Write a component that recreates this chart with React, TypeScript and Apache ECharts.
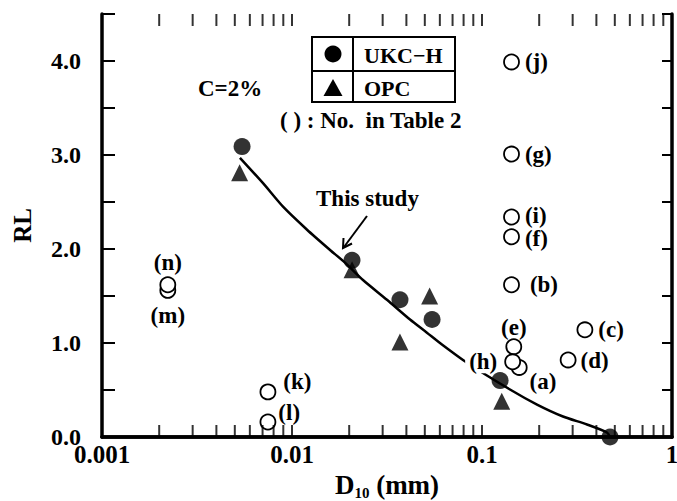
import React, { useEffect, useRef } from "react";
import * as echarts from "echarts";

// UKC-H (filled circles)
const ukcX = [0.00546, 0.0207, 0.037, 0.0546, 0.1245, 0.472];
const ukcY = [3.09, 1.88, 1.46, 1.25, 0.6, 0.0];
// OPC (filled triangles)
const opcX = [0.0053, 0.0207, 0.037, 0.053, 0.127];
const opcY = [2.81, 1.78, 1.01, 1.5, 0.38];
// Other studies (open circles), No. in Table 2
const otherNames = ["(a)", "(b)", "(c)", "(d)", "(e)", "(f)", "(g)", "(h)", "(i)", "(j)", "(k)", "(l)", "(m)", "(n)"];
const otherX = [0.157, 0.143, 0.348, 0.284, 0.147, 0.143, 0.143, 0.145, 0.143, 0.143, 0.00747, 0.00747, 0.00222, 0.00222];
const otherY = [0.74, 1.62, 1.14, 0.82, 0.96, 2.13, 3.01, 0.8, 2.34, 3.99, 0.48, 0.16, 1.56, 1.62];
// Fitted curve
const curveX = [0.00532, 0.00704, 0.00897, 0.012, 0.01585, 0.019, 0.02364, 0.0316, 0.0418, 0.0513, 0.0601, 0.0834, 0.1404, 0.1948, 0.2668, 0.3569, 0.4548, 0.472];
const curveY = [2.97, 2.7, 2.45, 2.205, 1.99, 1.855, 1.67, 1.46, 1.25, 1.11, 1.0, 0.79, 0.505, 0.345, 0.218, 0.133, 0.048, 0.0];
// Axis ticks
const xTickLabels = ["0.001", "0.01", "0.1", "1"];
const yTickLabels = ["0.0", "1.0", "2.0", "3.0", "4.0"];
const xTickValues = [
  0.002, 0.003, 0.004, 0.005, 0.006, 0.007, 0.008, 0.009, 0.01,
  0.02, 0.03, 0.04, 0.05, 0.06, 0.07, 0.08, 0.09, 0.1,
  0.2, 0.3, 0.4, 0.5, 0.6, 0.7, 0.8, 0.9,
];
const Y_MIN = 0;
const Y_MAX = 4.5;

const FONT = "'Liberation Serif', 'Times New Roman', serif";

const labelStyle: Record<string, any> = {
  "(a)": { position: "right", offset: [-3, 14] },
  "(b)": { position: "right", offset: [5, 0] },
  "(c)": { position: "right", offset: [0, 0] },
  "(d)": { position: "right", offset: [-1, 1] },
  "(e)": { position: "top", offset: [0, 6] },
  "(f)": { position: "right", offset: [0, 2] },
  "(g)": { position: "right", offset: [0, 0] },
  "(h)": { position: "left", offset: [0, 0], backgroundColor: "#fff", padding: [0, 2, 0, 4] },
  "(i)": { position: "right", offset: [0, -2] },
  "(j)": { position: "right", offset: [0, 0] },
  "(k)": { position: "right", offset: [2, -10] },
  "(l)": { position: "right", offset: [-3, -9] },
  "(m)": { position: "bottom", offset: [0, 0] },
  "(n)": { position: "top", offset: [0, 3] },
};

function tickSeries(yVal: number, dir: number) {
  return {
    type: "scatter",
    silent: true,
    clip: false,
    z: 6,
    symbol: "rect",
    symbolSize: [2, 12],
    symbolOffset: [0, dir * 6],
    itemStyle: { color: "#000" },
    data: xTickValues.map((v) => [v, yVal]),
  };
}

export default function App() {
  const ref = useRef<HTMLDivElement>(null);
  useEffect(() => {
    document.documentElement.style.margin = "0";
    document.documentElement.style.overflow = "hidden";
    document.body.style.margin = "0";
    document.body.style.overflow = "hidden";
    if (!ref.current) return;
    const chart = echarts.init(ref.current, null, { renderer: "svg", width: 677, height: 501 });
    const axisLine = { show: true, lineStyle: { color: "#000", width: 3.5 } };
    const option: any = {
      animation: false,
      backgroundColor: "#fff",
      grid: { left: 102, right: 5, top: 14, bottom: 64, outerBoundsMode: "none", containLabel: false },
      xAxis: [
        {
          type: "log",
          logBase: 10,
          min: 0.001,
          max: 1,
          position: "bottom",
          axisLine,
          axisTick: { show: false },
          splitLine: { show: false },
          axisLabel: {
            color: "#000",
            fontFamily: FONT,
            fontWeight: "bold",
            fontSize: 25,
            margin: 5,
            formatter: (v: number) => xTickLabels[Math.round(Math.log10(v)) + 3] ?? "",
          },
          name: "{d|D}{s|10}{d| (mm)}",
          nameLocation: "middle",
          nameGap: 24,
          nameTextStyle: {
            rich: {
              d: { fontFamily: FONT, fontWeight: "bold", fontSize: 27, color: "#000", lineHeight: 30, verticalAlign: "middle" },
              s: { fontFamily: FONT, fontWeight: "bold", fontSize: 15, color: "#000", lineHeight: 30, verticalAlign: "bottom" },
            },
          },
        },
        {
          type: "log",
          logBase: 10,
          min: 0.001,
          max: 1,
          position: "top",
          axisLine,
          axisTick: { show: false },
          axisLabel: { show: false },
          splitLine: { show: false },
        },
      ],
      yAxis: [
        {
          type: "value",
          min: Y_MIN,
          max: Y_MAX,
          interval: 0.5,
          position: "left",
          axisLine,
          axisTick: { show: true, inside: true, length: 13, lineStyle: { color: "#000", width: 2 } },
          splitLine: { show: false },
          axisLabel: {
            color: "#000",
            fontFamily: FONT,
            fontWeight: "bold",
            fontSize: 24,
            margin: 21,
            formatter: (v: number) => {
              const i = Math.round(v);
              return Math.abs(v - i) < 1e-6 ? yTickLabels[i] ?? "" : "";
            },
          },
          name: "RL",
          nameLocation: "middle",
          nameRotate: 90,
          nameGap: 67,
          nameTextStyle: { fontFamily: FONT, fontWeight: "bold", fontSize: 25, color: "#000" },
        },
        {
          type: "value",
          min: Y_MIN,
          max: Y_MAX,
          interval: 0.5,
          position: "right",
          axisLine,
          axisTick: { show: true, inside: true, length: 10, lineStyle: { color: "#000", width: 2 } },
          axisLabel: { show: false },
          splitLine: { show: false },
        },
      ],
      series: [
        tickSeries(Y_MIN, -1),
        tickSeries(Y_MAX, 1),
        {
          type: "line",
          name: "fit",
          smooth: 0.25,
          showSymbol: false,
          symbol: "none",
          z: 2,
          lineStyle: { color: "#000", width: 2.5 },
          data: curveX.map((x, i) => [x, curveY[i]]),
        },
        {
          type: "scatter",
          name: "others",
          z: 4,
          symbol: "circle",
          symbolSize: 15,
          itemStyle: { color: "#fff", borderColor: "#000", borderWidth: 1.8, opacity: 1 },
          data: otherX.map((x, i) => {
            const n = otherNames[i];
            const ls = labelStyle[n] || { position: "right" };
            return {
              value: [x, otherY[i]],
              name: n,
              label: {
                show: true,
                formatter: n,
                distance: 5,
                color: "#000",
                fontFamily: FONT,
                fontWeight: "bold",
                fontSize: 23,
                ...ls,
              },
            };
          }),
        },
        {
          type: "scatter",
          name: "OPC",
          z: 5,
          symbol: "triangle",
          symbolSize: 17,
          itemStyle: { color: "#000" },
          data: opcX.map((x, i) => [x, opcY[i]]),
        },
        {
          type: "scatter",
          name: "UKC-H",
          z: 5,
          symbol: "circle",
          symbolSize: 17,
          clip: false,
          itemStyle: { color: "#000" },
          data: ukcX.map((x, i) => [x, ukcY[i]]),
        },
      ],
      graphic: [
        { type: "rect", shape: { x: 312, y: 37, width: 143, height: 65 }, style: { fill: "#fff", stroke: "#000", lineWidth: 2 }, z: 10 },
        { type: "line", shape: { x1: 353, y1: 37, x2: 353, y2: 102 }, style: { stroke: "#000", lineWidth: 2 }, z: 11 },
        { type: "line", shape: { x1: 312, y1: 71, x2: 455, y2: 71 }, style: { stroke: "#000", lineWidth: 2 }, z: 11 },
        { type: "circle", shape: { cx: 333, cy: 54, r: 8.5 }, style: { fill: "#000" }, z: 11 },
        { type: "polygon", shape: { points: [[333, 79], [323.5, 96], [342.5, 96]] }, style: { fill: "#000" }, z: 11 },
        { type: "text", x: 364, y: 55, z: 11, style: { text: "UKC−H", fill: "#000", font: `bold 22px ${FONT}`, verticalAlign: "middle", align: "left" } },
        { type: "text", x: 364, y: 88, z: 11, style: { text: "OPC", fill: "#000", font: `bold 22px ${FONT}`, verticalAlign: "middle", align: "left" } },
        { type: "text", x: 198, y: 88, z: 11, style: { text: "C=2%", fill: "#000", font: `bold 23px ${FONT}`, verticalAlign: "middle", align: "left" } },
        { type: "text", x: 280, y: 120, z: 11, style: { text: "( ) : No.  in Table 2", fill: "#000", font: `bold 23px ${FONT}`, verticalAlign: "middle", align: "left" } },
        { type: "text", x: 316, y: 198, z: 11, style: { text: "This study", fill: "#000", font: `bold 23px ${FONT}`, verticalAlign: "middle", align: "left" } },
        { type: "line", shape: { x1: 367, y1: 216, x2: 344, y2: 247 }, style: { stroke: "#000", lineWidth: 2 }, z: 11 },
        { type: "polyline", shape: { points: [[343.5, 238], [343, 248], [352, 243.5]] }, style: { stroke: "#000", lineWidth: 2, fill: "none" }, z: 11 },
      ],
    };
    chart.setOption(option);
    return () => chart.dispose();
  }, []);
  return <div ref={ref} style={{ width: 677, height: 501 }} />;
}
